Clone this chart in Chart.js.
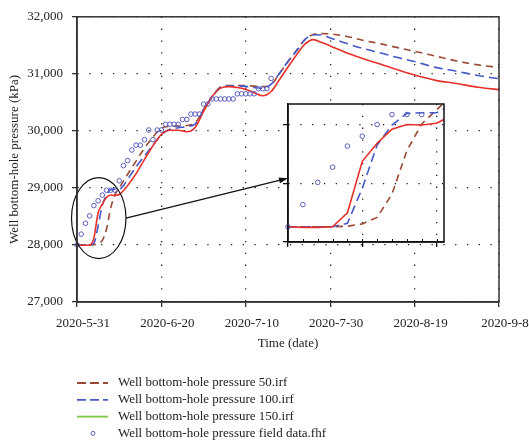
<!DOCTYPE html>
<html>
<head>
<meta charset="utf-8">
<script src="https://cdn.jsdelivr.net/npm/chart.js"></script>
<style>
  body { margin: 0; background: #fff; }
  #wrap { position: relative; width: 529px; height: 443px; }
  #main { position: absolute; left: 0; top: 0; }
  #inset { position: absolute; left: 280px; top: 97px; }
</style>
</head>
<body>
<div id="wrap">
  <canvas id="main" width="529" height="443"></canvas>
  <canvas id="inset" width="170" height="152"></canvas>
</div>
<script>
// days since 2020-5-31
var simDays = [0, 1, 2, 3, 4, 5, 6, 7, 8, 9, 10, 11, 12,
    14, 16, 18, 20, 22, 24, 26, 28, 30, 32, 34, 36, 38, 40, 42, 44, 46, 48, 50, 52, 54, 56, 58, 60,
    64, 68, 72, 76, 80, 85, 90, 95, 100];
var bhp50 = [28000, 28000, 28000, 28000, 28005, 28025, 28080, 28280, 28650, 28880, 29000, 29120, 29240,
    29470, 29700, 29890, 30050, 30080, 30085, 30095, 30140, 30380, 30600, 30770, 30795, 30795, 30795, 30785, 30775, 30810, 31010, 31210, 31410, 31600, 31690, 31705, 31700,
    31655, 31585, 31525, 31460, 31395, 31310, 31225, 31157, 31113];
var bhp100 = [28000, 28000, 28000, 28000, 28030, 28330, 28700, 28870, 28970, 28975, 28975, 29040, 29150,
    29370, 29560, 29750, 29930, 30030, 30055, 30075, 30120, 30370, 30590, 30760, 30790, 30790, 30780, 30760, 30745, 30820, 31010, 31220, 31400, 31600, 31685, 31680, 31630,
    31530, 31440, 31365, 31285, 31215, 31113, 31045, 30970, 30915];
var bhp150 = [28000, 27995, 27995, 28000, 28120, 28560, 28715, 28835, 28875, 28870, 28885, 28950, 29040,
    29250, 29500, 29740, 29940, 30010, 30010, 29985, 30060, 30340, 30600, 30750, 30775, 30760, 30725, 30670, 30615, 30690, 30900, 31120, 31330, 31520, 31600, 31550, 31490,
    31365, 31260, 31168, 31070, 30978, 30886, 30830, 30765, 30724];
// field data, one value per day from 2020-5-31
var fieldBhp = [28000, 28190, 28380, 28510, 28690, 28775, 28875, 28960, 28960, 28960,
    29125, 29390, 29480, 29665, 29750, 29750, 29845, 30015, 29845, 30015,
    30015, 30115, 30115, 30115, 30115, 30200, 30200, 30295, 30295, 30295,
    30470, 30470, 30560, 30560, 30560, 30560, 30560, 30560, 30650, 30650,
    30650, 30650, 30650, 30740, 30740, 30740, 30920];
var tickDates = ['2020-5-31', '2020-6-20', '2020-7-10', '2020-7-30', '2020-8-19', '2020-9-8'];
var seriesNames = ['Well bottom-hole pressure 50.irf', 'Well bottom-hole pressure 100.irf',
    'Well bottom-hole pressure 150.irf', 'Well bottom-hole pressure field data.fhf'];
var insetXTicks = [0, 5, 10];
var insetYTicks = [27870, 28370, 28870];
// the circled region and where the arrow points (data units)
var zoomBox = { x0: -1.3, x1: 11.6, y0: 27760, y1: 29180 };
var arrowTip = { x: 50, y: 29170 };

var BROWN = '#9b4a36', BLUE = '#4558c8', RED = '#e8302a', GREEN = '#7dc744', DOT = '#5a5fbf';

Chart.defaults.font.family = "'Liberation Serif', 'Times New Roman', serif";
Chart.defaults.font.size = 13;
Chart.defaults.color = '#222';

function pts(xs, ys) {
    return ys.map(function (v, i) { return { x: xs[i], y: v }; });
}
var fieldPts = fieldBhp.map(function (v, i) { return { x: i, y: v }; });

function makeSets(smooth) {
    var mode = smooth ? 'monotone' : 'default';
    return [{
        label: seriesNames[3], data: fieldPts, showLine: false, order: 0,
        pointRadius: 2.3, pointBorderWidth: 1, pointBorderColor: DOT, pointBackgroundColor: 'rgba(0,0,0,0)',
        clip: { left: 5, top: 0, right: 0, bottom: 0 }
    }, {
        label: seriesNames[2], data: pts(simDays, bhp150), order: 1,
        borderColor: RED, borderWidth: 1.6, pointRadius: 0, cubicInterpolationMode: mode
    }, {
        label: seriesNames[1], data: pts(simDays, bhp100), order: 2,
        borderColor: BLUE, borderWidth: 1.6, borderDash: [9, 5], pointRadius: 0, cubicInterpolationMode: mode
    }, {
        label: seriesNames[0], data: pts(simDays, bhp50), order: 3,
        borderColor: BROWN, borderWidth: 1.6, borderDash: [7, 5], pointRadius: 0, cubicInterpolationMode: mode
    }];
}

var frame = {
    id: 'frame',
    afterDraw: function (chart) {
        var a = chart.chartArea, ctx = chart.ctx;
        ctx.save();
        ctx.strokeStyle = chart.canvas.id == 'inset' ? '#111' : '#333';
        ctx.lineWidth = 1.5;
        ctx.setLineDash([]);
        ctx.strokeRect(a.left, a.top, a.right - a.left, a.bottom - a.top);
        ctx.restore();
    }
};

var zoomMark = {
    id: 'zoomMark',
    afterDatasetsDraw: function (chart) {
        var sx = chart.scales.x, sy = chart.scales.y, ctx = chart.ctx;
        var l = sx.getPixelForValue(zoomBox.x0), r = sx.getPixelForValue(zoomBox.x1);
        var t = sy.getPixelForValue(zoomBox.y1), b = sy.getPixelForValue(zoomBox.y0);
        var cx = (l + r) / 2, cy = (t + b) / 2;
        var ex = sx.getPixelForValue(arrowTip.x), ey = sy.getPixelForValue(arrowTip.y);
        ctx.save();
        ctx.strokeStyle = '#111';
        ctx.fillStyle = '#111';
        ctx.lineWidth = 1.2;
        ctx.setLineDash([]);
        ctx.beginPath();
        ctx.ellipse(cx, cy, (r - l) / 2, (b - t) / 2, 0, 0, Math.PI * 2);
        ctx.stroke();
        var ang = Math.atan2(ey - cy, ex - r);
        ctx.beginPath();
        ctx.moveTo(r, cy);
        ctx.lineTo(ex - 8 * Math.cos(ang), ey - 8 * Math.sin(ang));
        ctx.stroke();
        ctx.beginPath();
        ctx.moveTo(ex, ey);
        ctx.lineTo(ex - 9 * Math.cos(ang) + 3 * Math.sin(ang), ey - 9 * Math.sin(ang) - 3 * Math.cos(ang));
        ctx.lineTo(ex - 9 * Math.cos(ang) - 3 * Math.sin(ang), ey - 9 * Math.sin(ang) + 3 * Math.cos(ang));
        ctx.closePath();
        ctx.fill();
        ctx.restore();
    }
};

var legendBox = {
    id: 'legendBox',
    afterDraw: function (chart) {
        var ctx = chart.ctx, a = chart.chartArea;
        var x0 = a.left, y0 = a.bottom + 81;
        var styles = [
            { color: BROWN, dash: [9, 4] },
            { color: BLUE, dash: [9, 4] },
            { color: GREEN, dash: [] },
            { color: DOT, dot: true }
        ];
        ctx.save();
        ctx.font = "13px 'Liberation Serif', serif";
        ctx.textBaseline = 'middle';
        for (var i = 0; i < seriesNames.length; i++) {
            var y = y0 + i * 16.8, s = styles[i];
            ctx.strokeStyle = s.color;
            if (s.dot) {
                ctx.lineWidth = 1;
                ctx.setLineDash([]);
                ctx.beginPath();
                ctx.arc(x0 + 16, y, 2, 0, Math.PI * 2);
                ctx.stroke();
            } else {
                ctx.lineWidth = 1.8;
                ctx.setLineDash(s.dash);
                ctx.beginPath();
                ctx.moveTo(x0, y);
                ctx.lineTo(x0 + 31, y);
                ctx.stroke();
            }
            ctx.fillStyle = '#222';
            ctx.fillText(seriesNames[i], x0 + 41, y);
        }
        ctx.restore();
    }
};

var insetBg = {
    id: 'insetBg',
    beforeDraw: function (chart) {
        var a = chart.chartArea, ctx = chart.ctx;
        ctx.save();
        ctx.fillStyle = '#fff';
        ctx.fillRect(a.left, a.top, a.right - a.left, a.bottom - a.top);
        ctx.restore();
    },
    afterDraw: function (chart) {
        // small inward ticks, one per day
        var sx = chart.scales.x, a = chart.chartArea, ctx = chart.ctx;
        ctx.save();
        ctx.strokeStyle = '#111';
        ctx.lineWidth = 1;
        for (var d = 1; d <= sx.max; d++) {
            var px = Math.round(sx.getPixelForValue(d)) + 0.5;
            ctx.beginPath();
            ctx.moveTo(px, a.bottom);
            ctx.lineTo(px, a.bottom - 3);
            ctx.stroke();
        }
        ctx.restore();
    }
};

var dotGrid = { color: '#222', lineWidth: 1.3, tickColor: '#333', tickWidth: 1.3, tickLength: 5, tickBorderDash: [] };
var dotBorder = { color: '#333', width: 1.5, dash: [1.3, 10.5] };

new Chart(document.getElementById('main').getContext('2d'), {
    type: 'line',
    data: { datasets: makeSets(true) },
    options: {
        responsive: false,
        animation: false,
        devicePixelRatio: 1,
        layout: { padding: { top: 7, right: 30, bottom: 91, left: 0 } },
        plugins: { legend: { display: false }, tooltip: { enabled: false } },
        scales: {
            x: {
                type: 'linear', min: 0, max: 100,
                afterFit: function (s) { s.height = 50; s.paddingLeft = 0; s.paddingRight = 0; },
                ticks: {
                    stepSize: 20, autoSkip: false, maxRotation: 0, padding: 9, labelOffset: 6,
                    callback: function (v) { return tickDates[v / 20]; }
                },
                grid: dotGrid,
                border: dotBorder,
                title: { display: true, text: 'Time (date)', padding: { top: 0, bottom: 1 } }
            },
            y: {
                min: 27000, max: 32000,
                afterFit: function (s) { s.width = 77; },
                ticks: {
                    stepSize: 1000, padding: 9,
                    callback: function (v) { return v.toLocaleString('en-US'); }
                },
                grid: dotGrid,
                border: dotBorder,
                title: { display: true, text: 'Well bottom-hole pressure (kPa)', padding: { top: 7, bottom: 0 } }
            }
        }
    },
    plugins: [zoomMark, frame, legendBox]
});

new Chart(document.getElementById('inset').getContext('2d'), {
    type: 'line',
    data: { datasets: makeSets(false) },
    options: {
        responsive: false,
        animation: false,
        devicePixelRatio: 1,
        layout: { padding: { top: 7, right: 6, bottom: 0, left: 0 } },
        plugins: { legend: { display: false }, tooltip: { enabled: false } },
        scales: {
            x: {
                type: 'linear', min: 0, max: 10.5,
                afterBuildTicks: function (s) { s.ticks = insetXTicks.map(function (v) { return { value: v }; }); },
                afterFit: function (s) { s.height = 7; },
                ticks: { display: false },
                grid: { color: '#222', lineWidth: 1.3, tickColor: '#111', tickWidth: 1.3, tickLength: 5, tickBorderDash: [] },
                border: { color: '#111', width: 1.5, dash: [1.3, 10.5] }
            },
            y: {
                min: 27870, max: 29050,
                afterBuildTicks: function (s) { s.ticks = insetYTicks.map(function (v) { return { value: v }; }); },
                afterFit: function (s) { s.width = 8; },
                ticks: { display: false },
                grid: { color: '#222', lineWidth: 1.3, tickColor: '#111', tickWidth: 1.3, tickLength: 5, tickBorderDash: [] },
                border: { color: '#111', width: 1.5, dash: [1.3, 10.5] }
            }
        }
    },
    plugins: [insetBg, frame]
});
</script>
</body>
</html>
